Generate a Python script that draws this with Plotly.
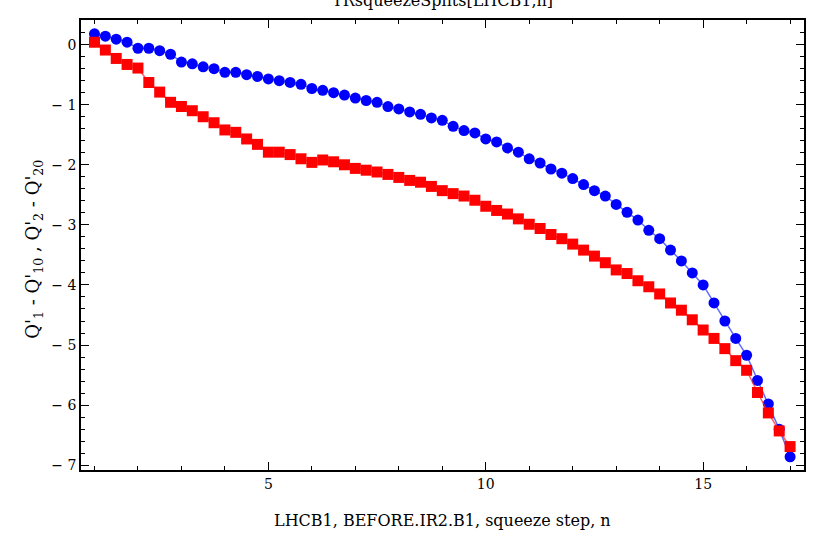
import plotly.graph_objects as go

# squeeze step n
steps = [
    1.00, 1.25, 1.50, 1.75, 2.00, 2.25, 2.50, 2.75, 3.00, 3.25, 3.50, 3.75,
    4.00, 4.25, 4.50, 4.75, 5.00, 5.25, 5.50, 5.75, 6.00, 6.25, 6.50, 6.75,
    7.00, 7.25, 7.50, 7.75, 8.00, 8.25, 8.50, 8.75, 9.00, 9.25, 9.50, 9.75,
    10.00, 10.25, 10.50, 10.75, 11.00, 11.25, 11.50, 11.75, 12.00, 12.25,
    12.50, 12.75, 13.00, 13.25, 13.50, 13.75, 14.00, 14.25, 14.50, 14.75,
    15.00, 15.25, 15.50, 15.75, 16.00, 16.25, 16.50, 16.75, 17.00,
]

# Q'2 - Q'20 (blue circles)
dq2 = [
    0.18, 0.14, 0.09, 0.04, -0.06, -0.06, -0.10, -0.16, -0.29, -0.32, -0.37, -0.40,
    -0.46, -0.46, -0.50, -0.53, -0.57, -0.60, -0.63, -0.66, -0.73, -0.76, -0.80, -0.84,
    -0.89, -0.93, -0.96, -1.03, -1.07, -1.12, -1.16, -1.22, -1.26, -1.36, -1.43, -1.47,
    -1.57, -1.62, -1.72, -1.79, -1.90, -1.97, -2.07, -2.14, -2.23, -2.33,
    -2.43, -2.52, -2.66, -2.79, -2.92, -3.09, -3.23, -3.42, -3.60, -3.80,
    -4.00, -4.30, -4.60, -4.89, -5.17, -5.59, -5.98, -6.40, -6.86,
]

# Q'1 - Q'10 (red squares)
dq1 = [
    0.04, -0.09, -0.23, -0.33, -0.39, -0.63, -0.79, -0.96, -1.03, -1.10, -1.20, -1.30,
    -1.42, -1.46, -1.57, -1.66, -1.79, -1.79, -1.83, -1.90, -1.96, -1.92, -1.95, -2.00,
    -2.06, -2.09, -2.12, -2.16, -2.21, -2.26, -2.29, -2.36, -2.43, -2.48, -2.52, -2.59,
    -2.69, -2.76, -2.82, -2.90, -2.99, -3.06, -3.16, -3.23, -3.32, -3.42,
    -3.52, -3.63, -3.75, -3.81, -3.93, -4.03, -4.15, -4.30, -4.42, -4.58,
    -4.75, -4.89, -5.06, -5.26, -5.42, -5.79, -6.13, -6.43, -6.69,
]

x_ticks = [5, 10, 15]
x_tick_text = ["5", "10", "15"]
y_ticks = [0, -1, -2, -3, -4, -5, -6, -7]
y_tick_text = ["0", "\u2212 1", "\u2212 2", "\u2212 3", "\u2212 4", "\u2212 5", "\u2212 6", "\u2212 7"]

title_text = "TRsqueezeSplits[LHCB1,n]"
x_label = "LHCB1, BEFORE.IR2.B1, squeeze step, n"
y_label = "Q'<sub>1</sub> - Q'<sub>10</sub> , Q'<sub>2</sub> - Q'<sub>20</sub>"

FONT = "DejaVu Serif"

fig = go.Figure()
fig.add_trace(go.Scatter(
    x=steps, y=dq2, mode="lines+markers",
    line=dict(color="rgba(40,60,255,0.75)", width=1.5),
    marker=dict(symbol="circle", size=11, color="rgb(0,0,255)", line=dict(width=0)),
    showlegend=False,
))
fig.add_trace(go.Scatter(
    x=steps, y=dq1, mode="lines+markers",
    line=dict(color="rgba(255,40,40,0.75)", width=1.5),
    marker=dict(symbol="square", size=11, color="rgb(255,0,0)", line=dict(width=0)),
    showlegend=False,
))

axis_common = dict(
    showline=True, linecolor="black", linewidth=1.5, mirror="allticks",
    ticks="inside", ticklen=8, tickwidth=1.2, tickcolor="black",
    showgrid=False, zeroline=False,
    tickfont=dict(family=FONT, size=14, color="black"),
)

fig.update_xaxes(
    range=[0.69, 17.32], tickvals=x_ticks, ticktext=x_tick_text,
    minor=dict(ticks="inside", dtick=1, tick0=0, ticklen=4, tickwidth=1, tickcolor="black", showgrid=False),
    **axis_common,
)
fig.update_yaxes(
    range=[-7.08, 0.41], tickvals=y_ticks, ticktext=y_tick_text,
    minor=dict(ticks="inside", dtick=0.2, tick0=0, ticklen=4, tickwidth=1, tickcolor="black", showgrid=False),
    **axis_common,
)

fig.update_layout(
    width=816, height=540,
    margin=dict(l=81, r=10, t=20, b=70),
    paper_bgcolor="white", plot_bgcolor="white",
    font=dict(family=FONT, size=15, color="black"),
    annotations=[
        dict(text=x_label, xref="paper", yref="paper", x=0.5, y=-0.113,
             xanchor="center", yanchor="middle", showarrow=False,
             font=dict(family=FONT, size=16, color="black")),
        dict(text=y_label, xref="paper", yref="paper", x=-0.066, y=0.49,
             xanchor="center", yanchor="middle", textangle=-90, showarrow=False,
             font=dict(family=FONT, size=18, color="black")),
        dict(text=title_text, xref="paper", yref="paper", x=0.5, y=1.044,
             xanchor="center", yanchor="middle", showarrow=False,
             font=dict(family=FONT, size=16, color="black")),
    ],
)

fig.write_html("out.html")
